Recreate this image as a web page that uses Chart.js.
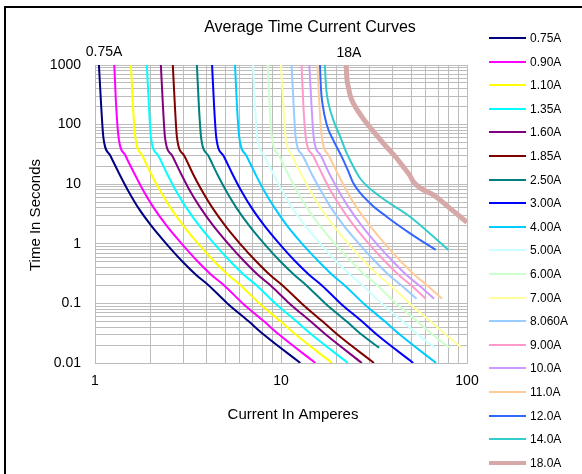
<!DOCTYPE html>
<html><head><meta charset="utf-8">
<script src="https://cdn.jsdelivr.net/npm/chart.js@4.4.1/dist/chart.umd.min.js"></script>
<style>
html,body{margin:0;padding:0;background:#fff;}
#wrap{position:relative;width:582px;height:474px;overflow:hidden;background:#fff;}
#frame{position:absolute;left:4px;top:6px;width:700px;height:600px;border-left:2px solid #000;border-top:2px solid #000;}
canvas{position:absolute;left:0;top:0;}
</style></head><body>
<div id="wrap"><div id="frame"></div><canvas id="c" width="582" height="474"></canvas></div>
<script>
// ---- Data ----
const TITLE = 'Average Time Current Curves';
const X_TITLE = 'Current In Amperes';
const Y_TITLE = 'Time In Seconds';
const X_TICK_LABELS = [1, 10, 100];
const Y_TICK_LABELS = [0.01, 0.1, 1, 10, 100, 1000];

const SERIES_LABELS = ['0.75A','0.90A','1.10A','1.35A','1.60A','1.85A','2.50A','3.00A','4.00A','5.00A','6.00A','7.00A','8.060A','9.00A','10.0A','11.0A','12.0A','14.0A','18.0A'];

// times (seconds)
const T_STD    = [1000, 200, 60, 30, 15, 8, 4, 2, 1, 0.5, 0.3, 0.2, 0.1, 0.05, 0.03, 0.01];
const T_TO_018 = [1000, 200, 60, 30, 15, 8, 4, 2, 1, 0.5, 0.3, 0.2, 0.1, 0.05, 0.03, 0.018];
const T_TO_012 = [1000, 200, 60, 30, 15, 8, 4, 2, 1, 0.5, 0.3, 0.2, 0.12];
const T_12A    = [1000, 400, 227, 100, 55, 29, 16, 10.4, 4.8, 2.85, 1.5, 0.79];
const T_14A    = [1000, 400, 227, 110, 63, 35, 25.5, 12.6, 6.2, 2.85, 0.79];
const T_18A    = [1000, 600, 432, 300, 227, 150, 105, 70, 48.6, 30, 19.7, 14, 11.0, 8.5, 6.6, 4, 2.3];

// currents (amperes)
const A_075  = [1.05, 1.08, 1.11, 1.21, 1.35, 1.50, 1.71, 2.01, 2.42, 2.96, 3.50, 4.09, 5.15, 6.70, 8.07, 12.7];
const A_090  = [1.27, 1.30, 1.34, 1.46, 1.63, 1.81, 2.07, 2.43, 2.93, 3.58, 4.23, 4.95, 6.23, 8.10, 9.76, 15.3];
const A_110  = [1.56, 1.60, 1.65, 1.80, 2.00, 2.23, 2.55, 2.99, 3.59, 4.40, 5.20, 6.08, 7.66, 9.95, 12.0, 18.8];
const A_135  = [1.90, 1.95, 2.00, 2.19, 2.44, 2.71, 3.10, 3.64, 4.38, 5.36, 6.33, 7.40, 9.33, 12.1, 14.6, 22.9];
const A_160  = [2.26, 2.32, 2.38, 2.60, 2.90, 3.22, 3.69, 4.33, 5.21, 6.38, 7.53, 8.80, 11.1, 14.4, 17.4, 27.2];
const A_185  = [2.62, 2.69, 2.76, 3.02, 3.36, 3.74, 4.28, 5.02, 6.03, 7.39, 8.73, 10.2, 12.9, 16.7, 20.1, 31.6];
const A_250  = [3.53, 3.62, 3.72, 4.07, 4.53, 5.04, 5.76, 6.76, 8.13, 9.96, 11.8, 13.7, 17.3, 22.5, 27.1, 33.7];
const A_300  = [4.26, 4.37, 4.49, 4.91, 5.47, 6.08, 6.95, 8.16, 9.81, 12.0, 14.2, 16.6, 20.9, 27.2, 32.7, 51.4];
const A_400  = [5.66, 5.80, 5.97, 6.52, 7.27, 8.07, 9.24, 10.8, 13.0, 16.0, 18.9, 22.0, 27.8, 36.1, 43.5, 68.2];
const A_500  = [7.07, 7.25, 7.46, 8.14, 9.08, 10.1, 11.5, 13.5, 16.3, 19.9, 23.6, 27.5, 34.7, 45.1, 54.3, 67.5];
const A_600  = [8.48, 8.69, 8.94, 9.77, 10.9, 12.1, 13.8, 16.2, 19.5, 23.9, 28.3, 33.0, 41.6, 54.1, 65.2, 81.0];
const A_700  = [10.0, 10.3, 10.6, 11.5, 12.8, 14.3, 16.3, 19.2, 23.0, 28.2, 33.3, 38.9, 49.1, 63.8, 76.8, 94.0];
const A_806  = [11.4, 11.7, 12.0, 13.1, 14.6, 16.3, 18.6, 21.8, 26.3, 32.2, 38.0, 44.4, 53.5];
const A_900  = [12.9, 13.2, 13.6, 14.9, 16.6, 18.4, 21.1, 24.7, 29.7, 36.4, 43.0, 50.2, 60.0];
const A_1000 = [14.2, 14.6, 15.0, 16.4, 18.2, 20.3, 23.2, 27.2, 32.7, 40.1, 47.3, 55.3, 66.5];
const A_1100 = [15.7, 16.1, 16.6, 18.1, 20.2, 22.4, 25.6, 30.1, 36.2, 44.3, 52.3, 61.1, 73.5];
const A_1200 = [16.2, 16.4, 16.7, 17.6, 19.1, 21.2, 23.1, 24.5, 30.1, 37.0, 49.4, 67.9];
const A_1400 = [17.2, 17.5, 18.0, 19.3, 20.8, 22.4, 23.5, 26.6, 34.1, 49.4, 79.4];
const A_1800 = [22.4, 22.6, 23.0, 23.6, 24.5, 26.6, 28.9, 32.2, 35.5, 40.8, 45.4, 49.3, 51.5, 56.5, 65.9, 80.5, 100];

const SERIES_POINTS = [
  [A_075, T_STD], [A_090, T_STD], [A_110, T_STD], [A_135, T_STD], [A_160, T_STD], [A_185, T_STD],
  [A_250, T_TO_018], [A_300, T_STD], [A_400, T_STD], [A_500, T_TO_018], [A_600, T_TO_018], [A_700, T_TO_018],
  [A_806, T_TO_012], [A_900, T_TO_012], [A_1000, T_TO_012], [A_1100, T_TO_012],
  [A_1200, T_12A], [A_1400, T_14A], [A_1800, T_18A]
];

// ---- Styles ----
const COLORS = ['#000080','#FF00FF','#FFFF00','#00FFFF','#800080','#800000','#008080','#0000FF','#00CCFF','#CCFFFF','#CCFFCC','#FFFF99','#99CCFF','#FF99CC','#CC99FF','#FFCC99','#3366FF','#33CCCC','#D6A8A8'];
const WIDTHS = [2,2,2,2,2,2,2,2,2,2,2,2,2,2,2,2,2,2,5];
const FONT = '"Liberation Sans", Arial, sans-serif';
const GRID = '#bcbcbc';

function logGrid(minExp, maxExp) {
  const out = [];
  for (let e = minExp; e < maxExp; e++) {
    for (let s = 1; s < 10; s++) out.push({ value: Number((s * Math.pow(10, e)).toPrecision(6)) });
  }
  out.push({ value: Number(Math.pow(10, maxExp).toPrecision(6)) });
  return out;
}
function labelFor(list) {
  return (v) => {
    const m = list.find(t => Math.abs(t - v) / t < 1e-6);
    return m !== undefined ? String(m) : '';
  };
}

const datasets = SERIES_POINTS.map(([amps, times], i) => ({
  label: SERIES_LABELS[i],
  data: amps.map((a, k) => ({ x: a, y: times[k] })),
  borderColor: COLORS[i],
  backgroundColor: COLORS[i],
  borderWidth: WIDTHS[i],
  pointRadius: 0,
  cubicInterpolationMode: 'monotone',
  fill: false
}));

const textPlugin = {
  id: 'texts',
  afterDraw(chart) {
    const ctx = chart.ctx;
    ctx.save();
    ctx.fillStyle = '#000';
    ctx.textAlign = 'center';
    ctx.textBaseline = 'middle';
    ctx.font = '16px ' + FONT;
    ctx.fillText(TITLE, 310, 28);
    ctx.font = '14px ' + FONT;
    ctx.fillText(SERIES_LABELS[0], 104, 52);
    ctx.fillText('18A', 349, 53);
    ctx.font = '15px ' + FONT;
    ctx.fillText(X_TITLE, 293, 415);
    ctx.save();
    ctx.translate(36, 215);
    ctx.rotate(-Math.PI / 2);
    ctx.fillText(Y_TITLE, 0, 0);
    ctx.restore();
    // legend
    ctx.font = '12px ' + FONT;
    ctx.textAlign = 'left';
    chart.data.datasets.forEach((ds, i) => {
      const y = Math.round(38 + i * 23.6);
      ctx.strokeStyle = ds.borderColor;
      ctx.lineWidth = ds.borderWidth >= 4 ? 4 : 2;
      ctx.beginPath();
      ctx.moveTo(489, y);
      ctx.lineTo(526, y);
      ctx.stroke();
      ctx.fillStyle = '#000';
      ctx.fillText(ds.label, 530, y + 1);
    });
    ctx.restore();
  }
};

new Chart(document.getElementById('c'), {
  type: 'line',
  data: { datasets },
  plugins: [textPlugin],
  options: {
    responsive: false,
    animation: false,
    devicePixelRatio: 1,
    layout: { padding: { left: 0, top: 65, right: 115, bottom: 0 } },
    plugins: { legend: { display: false }, title: { display: false }, tooltip: { enabled: false } },
    scales: {
      x: {
        type: 'logarithmic',
        min: 1, max: 100,
        afterBuildTicks: (s) => { s.ticks = logGrid(0, 2); },
        afterFit: (s) => { s.height = 111; },
        grid: { color: GRID, lineWidth: 1, drawTicks: false },
        border: { display: true, color: GRID, width: 1 },
        ticks: { autoSkip: false, maxRotation: 0, minRotation: 0, padding: 10, color: '#000',
                 font: { family: FONT, size: 14 }, callback: labelFor(X_TICK_LABELS) }
      },
      y: {
        type: 'logarithmic',
        min: 0.01, max: 1000,
        afterBuildTicks: (s) => { s.ticks = logGrid(-2, 3); },
        afterFit: (s) => { s.width = 95; },
        grid: { color: GRID, lineWidth: 1, drawTicks: false },
        border: { display: true, color: GRID, width: 1 },
        ticks: { autoSkip: false, padding: 14, color: '#000',
                 font: { family: FONT, size: 14 }, callback: labelFor(Y_TICK_LABELS) }
      }
    }
  }
});
</script>
</body></html>
